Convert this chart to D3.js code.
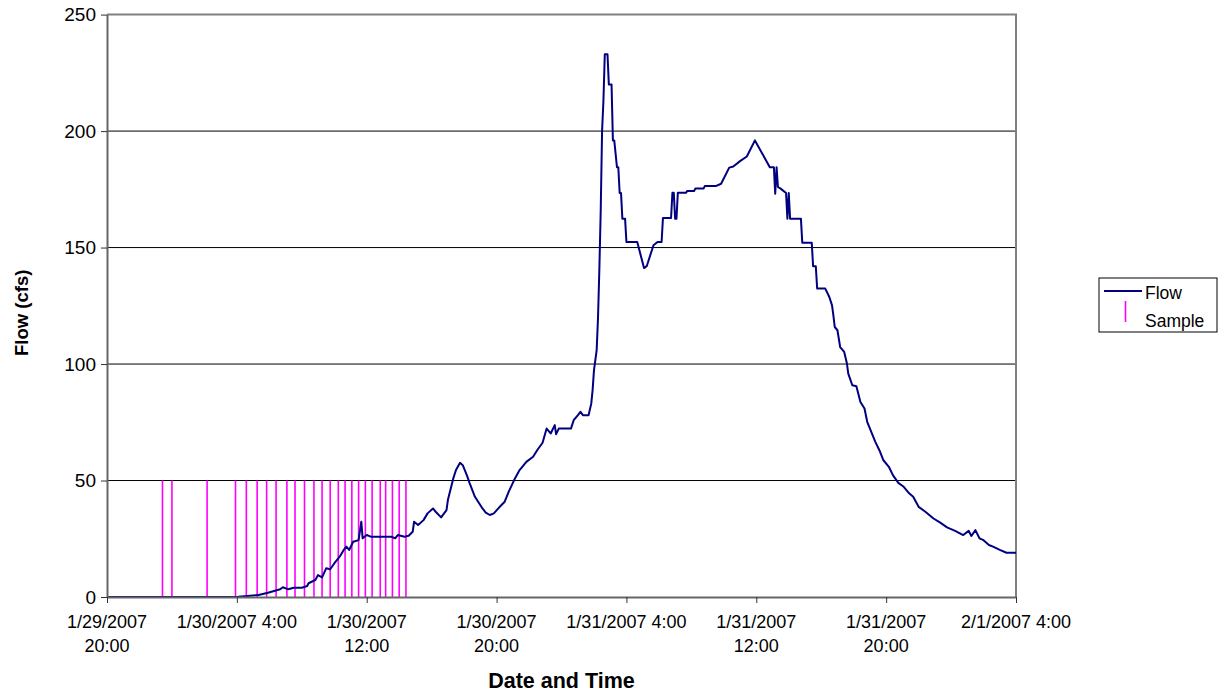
<!DOCTYPE html>
<html>
<head>
<meta charset="utf-8">
<script src="https://cdn.jsdelivr.net/npm/d3@7"></script>
<style>
body { margin: 0; background: #fff; }
text { font-family: "Liberation Sans", Arial, sans-serif; fill: #000; }
</style>
</head>
<body>
<div id="chart"></div>
<script>
// flow readings (date/time, cfs)
const flowReadings = [
  ["1/29/2007 20:00", 0], ["1/30/2007 4:05", 0.1], ["1/30/2007 5:20", 0.9], ["1/30/2007 5:55", 1.8],
  ["1/30/2007 6:40", 3.3], ["1/30/2007 6:50", 4.2], ["1/30/2007 7:10", 3.3], ["1/30/2007 7:30", 4.0],
  ["1/30/2007 8:00", 4.0], ["1/30/2007 8:20", 4.7], ["1/30/2007 8:25", 5.9], ["1/30/2007 8:50", 7.3],
  ["1/30/2007 9:00", 9.4], ["1/30/2007 9:15", 8.4], ["1/30/2007 9:30", 12.3], ["1/30/2007 9:45", 11.9],
  ["1/30/2007 10:00", 14.4], ["1/30/2007 10:20", 17.3], ["1/30/2007 10:35", 20.2], ["1/30/2007 10:45", 21.6],
  ["1/30/2007 10:55", 20.2], ["1/30/2007 11:10", 23.7], ["1/30/2007 11:30", 24.4], ["1/30/2007 11:40", 32.3],
  ["1/30/2007 11:45", 25.2], ["1/30/2007 12:00", 26.6], ["1/30/2007 12:15", 25.9], ["1/30/2007 13:30", 25.9],
  ["1/30/2007 13:45", 25.2], ["1/30/2007 13:55", 26.6], ["1/30/2007 14:20", 25.9], ["1/30/2007 14:35", 26.3],
  ["1/30/2007 14:50", 28.0], ["1/30/2007 14:55", 32.3], ["1/30/2007 15:10", 30.9], ["1/30/2007 15:30", 33.0],
  ["1/30/2007 15:45", 35.9], ["1/30/2007 16:05", 38.0], ["1/30/2007 16:15", 36.6], ["1/30/2007 16:35", 34.2],
  ["1/30/2007 16:55", 37.3], ["1/30/2007 17:00", 41.6], ["1/30/2007 17:20", 50.9], ["1/30/2007 17:30", 54.5],
  ["1/30/2007 17:45", 57.6], ["1/30/2007 17:55", 56.6], ["1/30/2007 18:10", 52.3], ["1/30/2007 18:20", 49.0],
  ["1/30/2007 18:40", 43.0], ["1/30/2007 19:05", 38.5], ["1/30/2007 19:20", 36.2], ["1/30/2007 19:35", 35.2],
  ["1/30/2007 19:50", 35.9], ["1/30/2007 20:10", 38.5], ["1/30/2007 20:30", 40.9], ["1/30/2007 20:45", 45.2],
  ["1/30/2007 21:05", 50.2], ["1/30/2007 21:25", 54.5], ["1/30/2007 21:35", 55.9], ["1/30/2007 21:50", 58.0],
  ["1/30/2007 22:15", 60.2], ["1/30/2007 22:30", 63.0], ["1/30/2007 22:50", 66.2], ["1/30/2007 23:05", 72.3],
  ["1/30/2007 23:20", 70.2], ["1/30/2007 23:35", 73.8], ["1/30/2007 23:40", 69.9], ["1/30/2007 23:50", 72.3],
  ["1/31/2007 0:35", 72.3], ["1/31/2007 0:45", 75.9], ["1/31/2007 1:00", 78.0], ["1/31/2007 1:10", 79.5],
  ["1/31/2007 1:20", 78.0], ["1/31/2007 1:40", 78.0], ["1/31/2007 1:50", 83.0], ["1/31/2007 1:55", 88.8],
  ["1/31/2007 2:00", 97.3], ["1/31/2007 2:10", 106], ["1/31/2007 2:15", 120], ["1/31/2007 2:20", 141],
  ["1/31/2007 2:25", 166], ["1/31/2007 2:30", 200], ["1/31/2007 2:35", 213], ["1/31/2007 2:40", 233],
  ["1/31/2007 2:50", 233], ["1/31/2007 2:55", 220], ["1/31/2007 3:05", 220], ["1/31/2007 3:10", 196],
  ["1/31/2007 3:15", 196], ["1/31/2007 3:25", 184.5], ["1/31/2007 3:30", 184.5], ["1/31/2007 3:35", 173.4],
  ["1/31/2007 3:40", 173.4], ["1/31/2007 3:45", 162.4], ["1/31/2007 3:55", 162.4], ["1/31/2007 4:00", 152.4],
  ["1/31/2007 4:40", 152.4], ["1/31/2007 5:05", 141.2], ["1/31/2007 5:15", 142], ["1/31/2007 5:40", 151],
  ["1/31/2007 5:55", 152.4], ["1/31/2007 6:10", 152.4], ["1/31/2007 6:15", 162.7], ["1/31/2007 6:45", 162.7],
  ["1/31/2007 6:50", 173.5], ["1/31/2007 6:55", 173.5], ["1/31/2007 7:00", 162.4], ["1/31/2007 7:05", 162.4],
  ["1/31/2007 7:10", 173.5], ["1/31/2007 7:40", 173.5], ["1/31/2007 7:45", 174.3], ["1/31/2007 8:10", 174.3],
  ["1/31/2007 8:15", 175.3], ["1/31/2007 8:45", 175.3], ["1/31/2007 8:50", 176.4], ["1/31/2007 9:30", 176.4],
  ["1/31/2007 9:50", 177.4], ["1/31/2007 10:20", 184.3], ["1/31/2007 10:35", 184.8], ["1/31/2007 11:00", 187.1],
  ["1/31/2007 11:25", 189.1], ["1/31/2007 11:55", 196], ["1/31/2007 12:50", 184.5], ["1/31/2007 13:05", 184.5],
  ["1/31/2007 13:10", 173.1], ["1/31/2007 13:15", 184.5], ["1/31/2007 13:20", 176], ["1/31/2007 13:30", 175.3],
  ["1/31/2007 13:50", 173.4], ["1/31/2007 13:55", 162.4], ["1/31/2007 14:00", 173.4], ["1/31/2007 14:05", 162.4],
  ["1/31/2007 14:45", 162.4], ["1/31/2007 14:50", 152.1], ["1/31/2007 15:25", 152.1], ["1/31/2007 15:30", 142],
  ["1/31/2007 15:40", 142], ["1/31/2007 15:45", 132.4], ["1/31/2007 16:15", 132.4], ["1/31/2007 16:30", 128.8],
  ["1/31/2007 16:40", 125.2], ["1/31/2007 16:45", 120.9], ["1/31/2007 16:50", 115.9], ["1/31/2007 17:00", 114.5],
  ["1/31/2007 17:10", 107.3], ["1/31/2007 17:25", 105.2], ["1/31/2007 17:35", 100.2], ["1/31/2007 17:40", 95.9],
  ["1/31/2007 17:55", 90.9], ["1/31/2007 18:10", 90.5], ["1/31/2007 18:25", 83.7], ["1/31/2007 18:40", 80.9],
  ["1/31/2007 18:50", 75.2], ["1/31/2007 19:05", 70.9], ["1/31/2007 19:20", 66.6], ["1/31/2007 19:35", 63.0],
  ["1/31/2007 19:50", 58.7], ["1/31/2007 20:10", 55.9], ["1/31/2007 20:25", 52.3], ["1/31/2007 20:45", 49.0],
  ["1/31/2007 21:05", 47.3], ["1/31/2007 21:25", 44.5], ["1/31/2007 21:40", 43.0], ["1/31/2007 22:00", 38.7],
  ["1/31/2007 22:25", 36.6], ["1/31/2007 22:55", 33.7], ["1/31/2007 23:20", 31.9], ["1/31/2007 23:45", 29.9],
  ["2/1/2007 0:15", 28.4], ["2/1/2007 0:45", 26.6], ["2/1/2007 1:05", 28.4], ["2/1/2007 1:15", 26.2],
  ["2/1/2007 1:30", 28.7], ["2/1/2007 1:45", 25.2], ["2/1/2007 2:00", 24.4], ["2/1/2007 2:20", 22.3],
  ["2/1/2007 2:35", 21.6], ["2/1/2007 3:00", 20.2], ["2/1/2007 3:25", 19.0], ["2/1/2007 4:00", 19.0]
];

// sample times, each drawn as a bar up to sampleHeight
const sampleTimes = [
  "1/29/2007 23:25", "1/30/2007 0:00", "1/30/2007 2:10", "1/30/2007 3:55", "1/30/2007 4:35",
  "1/30/2007 5:15", "1/30/2007 5:50", "1/30/2007 6:25", "1/30/2007 7:05", "1/30/2007 7:35",
  "1/30/2007 8:10", "1/30/2007 8:45", "1/30/2007 9:15", "1/30/2007 9:45", "1/30/2007 10:15",
  "1/30/2007 10:40", "1/30/2007 11:05", "1/30/2007 11:30", "1/30/2007 11:55", "1/30/2007 12:20",
  "1/30/2007 12:50", "1/30/2007 13:10", "1/30/2007 13:35", "1/30/2007 14:00", "1/30/2007 14:25"
];
const sampleHeight = 50;

const xTickTimes = ["1/29/2007 20:00", "1/30/2007 4:00", "1/30/2007 12:00", "1/30/2007 20:00",
  "1/31/2007 4:00", "1/31/2007 12:00", "1/31/2007 20:00", "2/1/2007 4:00"];
const xTickLabels = [["1/29/2007", "20:00"], ["1/30/2007 4:00"], ["1/30/2007", "12:00"], ["1/30/2007", "20:00"],
  ["1/31/2007 4:00"], ["1/31/2007", "12:00"], ["1/31/2007", "20:00"], ["2/1/2007 4:00"]];
const yTicks = [0, 50, 100, 150, 200, 250];

const width = 1223, height = 694;
const margin = {left: 107, right: 207, top: 14.6, bottom: 97};
const parse = d3.timeParse("%m/%d/%Y %H:%M");

let svg = d3.select("#chart")
    .append("svg")
    .attr("width", width)
    .attr("height", height);

let x = d3.scaleTime()
    .domain([parse(xTickTimes[0]), parse(xTickTimes[xTickTimes.length - 1])])
    .range([margin.left, width - margin.right]);

let y = d3.scaleLinear()
    .domain([0, 250])
    .range([height - margin.bottom, margin.top]);

// gridlines
svg.append("g")
    .selectAll("line")
    .data(yTicks.slice(1, -1))
    .enter()
    .append("line")
    .attr("x1", x.range()[0])
    .attr("x2", x.range()[1])
    .attr("y1", d => y(d))
    .attr("y2", d => y(d))
    .attr("stroke", "#000")
    .attr("stroke-width", 1);

// plot area border (top and right)
svg.append("path")
    .attr("d", `M${x.range()[0]},${y(250)}H${x.range()[1]}V${y(0)}`)
    .attr("fill", "none")
    .attr("stroke", "#808080")
    .attr("stroke-width", 2);

// samples
svg.append("g")
    .selectAll("line")
    .data(sampleTimes)
    .enter()
    .append("line")
    .attr("x1", d => x(parse(d)))
    .attr("x2", d => x(parse(d)))
    .attr("y1", y(0))
    .attr("y2", y(sampleHeight))
    .attr("stroke", "#ff00ff")
    .attr("stroke-width", 1.6);

// flow line
let line = d3.line()
    .x(d => x(parse(d[0])))
    .y(d => y(d[1]));

svg.append("path")
    .datum(flowReadings)
    .attr("d", line)
    .attr("fill", "none")
    .attr("stroke", "#000080")
    .attr("stroke-width", 2)
    .attr("stroke-linejoin", "round");

// y axis
let yAxis = svg.append("g")
    .attr("transform", `translate(${margin.left},0)`)
    .call(d3.axisLeft(y).tickValues(yTicks).tickSize(6).tickPadding(5).tickSizeOuter(0));
yAxis.select(".domain").attr("stroke", "#666").attr("stroke-width", 2);
yAxis.selectAll(".tick line").attr("stroke", "#333");
yAxis.selectAll(".tick text").style("font-size", "19px").attr("font-family", null);

// x axis
let xAxis = svg.append("g")
    .attr("transform", `translate(0,${height - margin.bottom})`)
    .call(d3.axisBottom(x).tickValues(xTickTimes.map(parse)).tickSize(6).tickSizeOuter(0).tickFormat(""));
xAxis.select(".domain").attr("stroke", "#666").attr("stroke-width", 2);
xAxis.selectAll(".tick line").attr("stroke", "#333");

svg.append("g")
    .selectAll("text")
    .data(xTickLabels)
    .enter()
    .append("text")
    .attr("x", (d, i) => x(parse(xTickTimes[i])))
    .attr("y", height - margin.bottom + 31)
    .attr("text-anchor", "middle")
    .style("font-size", "18px")
    .selectAll("tspan")
    .data(d => d)
    .enter()
    .append("tspan")
    .attr("x", function() { return this.parentNode.getAttribute("x"); })
    .attr("dy", (d, i) => i == 0 ? 0 : 24)
    .text(d => d);

// axis titles
svg.append("text")
    .attr("x", (x.range()[0] + x.range()[1]) / 2)
    .attr("y", 688)
    .attr("text-anchor", "middle")
    .style("font-size", "21.5px")
    .style("font-weight", "bold")
    .text("Date and Time");

svg.append("text")
    .attr("transform", `translate(28, ${(y(0) + y(250)) / 2 + 7}) rotate(-90)`)
    .attr("text-anchor", "middle")
    .style("font-size", "18.5px")
    .style("font-weight", "bold")
    .text("Flow (cfs)");

// legend
let legend = svg.append("g").attr("transform", "translate(1099,278)");
legend.append("rect")
    .attr("width", 118)
    .attr("height", 54)
    .attr("fill", "#fff")
    .attr("stroke", "#000")
    .attr("stroke-width", 1);
legend.append("line")
    .attr("x1", 5).attr("x2", 43).attr("y1", 13).attr("y2", 13)
    .attr("stroke", "#000080").attr("stroke-width", 2);
legend.append("line")
    .attr("x1", 26.5).attr("x2", 26.5).attr("y1", 23).attr("y2", 44)
    .attr("stroke", "#ff00ff").attr("stroke-width", 1.6);
legend.append("text").attr("x", 46).attr("y", 21).style("font-size", "17.5px").text("Flow");
legend.append("text").attr("x", 46).attr("y", 49).style("font-size", "17.5px").text("Sample");
</script>
</body>
</html>
